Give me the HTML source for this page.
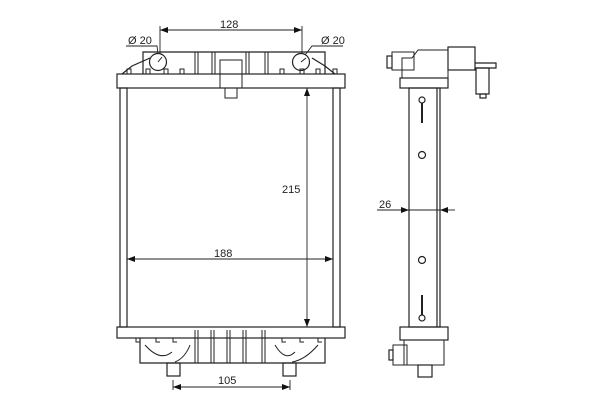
<!DOCTYPE html>
<html><head><style>body{margin:0;background:#fff}svg{display:block}</style></head><body>
<svg width="600" height="400" viewBox="0 0 600 400" xmlns="http://www.w3.org/2000/svg" font-family="Liberation Sans, sans-serif" font-size="11" fill="none" stroke="#222" stroke-width="1.2">
<defs><marker id="a" markerWidth="8" markerHeight="6" refX="8" refY="3" orient="auto" markerUnits="userSpaceOnUse"><path d="M0,0L8,3L0,6z" fill="#111" stroke="none"/></marker></defs>
<!-- main front view -->
<rect x="117" y="74" width="228" height="14"/>
<path d="M143,74 L143,52 L325,52 L325,74"/>
<path d="M122,74 L132,66 L150,58 M335,74 L325,66 L312,58"/>
<g stroke-width="1">
<path d="M127,74v-5h4v5 M146,74v-5h4v5 M164,74v-5h4v5 M180,74v-5h4v5 M280,74v-5h4v5 M300,74v-5h4v5 M316,74v-5h4v5 M333,74v-5h4v5"/>
<path d="M195,52v22 M198,52v22 M265,52v22 M268,52v22 M212,52v22 M215,52v22 M246,52v22 M249,52v22"/>
<rect x="220" y="60" width="22" height="28"/><rect x="225" y="88" width="12" height="10"/>
</g>
<circle cx="158" cy="62" r="8.5"/><circle cx="301" cy="62" r="8.5"/>
<path d="M158,62l4,-5 M301,62l5,-4" stroke-width="1"/>
<rect x="120" y="88" width="7" height="239"/><rect x="333" y="88" width="7" height="239"/>
<rect x="117" y="327" width="228" height="11"/>
<path d="M140,338 L140,363 L325,363 L325,338"/>
<g stroke-width="1">
<path d="M136,338v4h4 M156,338v4h4 M173,338v4h4 M282,338v4h4 M300,338v4h4 M318,338v4h4"/>
<path d="M195,330v33 M198,330v33 M211,330v33 M214,330v33 M227,330v33 M230,330v33 M243,330v33 M246,330v33 M262,330v33 M265,330v33"/>
<path d="M145,345 Q160,362 172,352 M190,345 Q185,358 175,362 M275,345 Q285,362 295,352 M318,345 Q305,360 292,362"/>
</g>
<rect x="167" y="363" width="13" height="13"/><rect x="283" y="363" width="13" height="13"/>
<!-- dims -->
<g stroke-width="0.9">
<path d="M160,30 H302 M160,26v28 M302,26v28" marker-end=""/>
<path d="M230,30 H160" marker-end="url(#a)"/><path d="M230,30 H302" marker-end="url(#a)"/>
<path d="M230,259 H127" marker-end="url(#a)"/><path d="M230,259 H333" marker-end="url(#a)"/>
<path d="M307,200 V88" marker-end="url(#a)"/><path d="M307,200 V327" marker-end="url(#a)"/>
<path d="M230,387 H173" marker-end="url(#a)"/><path d="M230,387 H290" marker-end="url(#a)"/>
<path d="M173,380v10 M290,380v10"/>
<path d="M126,46 H157 L158,54 M343,46 H312 L305,55"/>
</g>
<g fill="#222" stroke="none">
<text x="220" y="28">128</text><text x="128" y="44">Ø 20</text><text x="321" y="44">Ø 20</text>
<text x="214" y="257">188</text><text x="282" y="193">215</text><text x="218" y="384">105</text>
<text x="379" y="208">26</text>
</g>
<!-- side view -->
<rect x="409" y="88" width="31" height="239"/><path d="M437,88v239"/>
<rect x="400" y="78" width="48" height="10"/>
<path d="M402,78 V58 H412 L418,50 H448 V78" stroke-width="1"/>
<rect x="392" y="52" width="22" height="18" stroke-width="1"/><rect x="387" y="56" width="5" height="12"/>
<rect x="448" y="47" width="27" height="23"/><path d="M475,63 H496 V68 H475"/>
<rect x="476" y="68" width="13" height="26"/><rect x="480" y="94" width="6" height="4"/>
<circle cx="422" cy="100" r="3"/><path d="M422,103v20" stroke-width="2"/>
<circle cx="422" cy="155" r="3.5"/><circle cx="422" cy="260" r="3.5"/>
<circle cx="422" cy="318" r="3"/><path d="M422,295v20" stroke-width="2"/>
<rect x="400" y="327" width="48" height="13"/>
<path d="M404,340 V365 H444 V340" stroke-width="1"/>
<rect x="393" y="345" width="14" height="20" stroke-width="1"/><rect x="389" y="350" width="4" height="10"/>
<rect x="418" y="365" width="14" height="12"/>
<g stroke-width="0.9"><path d="M377,210 H409" marker-end="url(#a)"/><path d="M455,210 H440" marker-end="url(#a)"/><path d="M409,210H440"/></g>
</svg>
</body></html>
